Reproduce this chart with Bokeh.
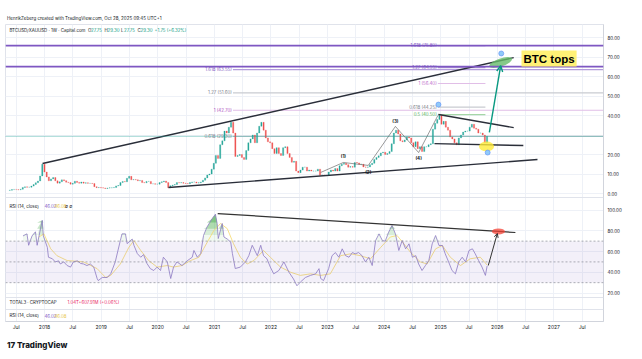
import numpy as np
import pandas as pd
from bokeh.plotting import figure
from bokeh.models import (Range1d, FixedTicker, Span, BoxAnnotation, Label, Div, Arrow, OpenHead)
from bokeh.layouts import column
from bokeh.embed import file_html
from bokeh.resources import INLINE
from bokeh.core.properties import value

# ---------------- data ----------------
last_date = "2025-10-27"          # last bi-weekly bar
first_open = 1.6
close_2017 = [1.7, 2.0, 2.1, 2.0, 1.9, 2.2, 3.1, 3.4, 3.2, 3.2, 3.8, 4.6, 5.5, 6.4, 9.0, 15.0]
close_2018 = [11.0, 8.5, 6.5, 7.5, 8.2, 6.5, 5.3, 6.0, 7.0, 6.6, 5.8, 5.6, 4.8, 5.2, 6.3, 5.7,
              5.3, 5.9, 5.3, 5.5, 5.2, 5.2, 5.1, 3.5, 3.0, 3.1]
close_2019 = [2.9, 2.8, 2.6, 2.8, 2.9, 3.0, 3.1, 3.9, 4.1, 5.6, 6.2, 6.0, 7.8, 8.8, 7.0, 7.2,
              7.0, 6.5, 6.7, 5.6, 5.5, 6.2, 6.2, 5.0, 5.0, 4.8]
close_2020 = [4.8, 5.6, 6.0, 6.4, 5.6, 3.0, 4.0, 4.3, 4.6, 5.6, 5.5, 5.6, 5.3, 5.1, 5.0, 5.6,
              5.9, 5.9, 5.4, 5.5, 5.9, 6.8, 8.0, 9.5, 10.0, 12.5]
close_2021 = [15.5, 19.5, 18.0, 25.0, 27.0, 32.0, 31.0, 34.0, 36.5, 31.0, 19.0, 19.5, 20.0, 18.5,
              17.5, 22.0, 26.0, 28.0, 30.0, 26.0, 31.0, 34.5, 36.5, 32.5, 28.5, 26.5]
close_2022 = [26.0, 23.0, 20.5, 23.5, 20.5, 19.5, 23.5, 24.0, 20.5, 18.5, 16.0, 16.5, 11.5, 10.7,
              12.0, 13.5, 13.5, 11.5, 12.0, 11.5, 11.5, 11.5, 12.5, 9.3, 9.5, 9.2]
close_2023 = [9.2, 11.0, 12.0, 11.5, 12.8, 11.5, 14.2, 15.0, 15.5, 14.8, 13.5, 13.8, 13.5, 15.9,
              15.7, 15.0, 15.0, 13.6, 13.5, 13.6, 14.8, 15.5, 17.5, 18.5, 19.3, 20.8]
close_2024 = [21.2, 20.0, 20.5, 21.5, 25.5, 31.0, 32.5, 30.5, 27.0, 26.5, 27.5, 29.0, 28.5, 26.0,
              24.0, 26.5, 23.0, 24.0, 21.5, 24.0, 24.0, 25.0, 25.5, 33.0, 36.0, 38.0]
close_2025 = [40.0, 35.5, 37.0, 34.0, 32.5, 29.0, 28.0, 26.0, 25.0, 28.5, 30.0, 31.5, 32.0, 32.0,
              34.0, 35.5, 33.5, 33.0, 31.0, 31.0, 30.0, 26.0, 29.3]

# RSI (14, close) read at points along the line: time (years) and value
rsi_t = [2017.62, 2017.69, 2017.72, 2017.78, 2017.84, 2017.87, 2017.96, 2017.98, 2018.05, 2018.07,
         2018.14, 2018.19, 2018.25, 2018.28, 2018.34, 2018.40, 2018.46, 2018.51, 2018.58, 2018.64,
         2018.69, 2018.75, 2018.81, 2018.87, 2018.93, 2018.95, 2019.02, 2019.11, 2019.17, 2019.25,
         2019.34, 2019.37, 2019.43, 2019.46, 2019.55, 2019.58, 2019.64, 2019.70, 2019.75, 2019.81,
         2019.87, 2019.93, 2019.99, 2020.05, 2020.10, 2020.17, 2020.23, 2020.28, 2020.34, 2020.43,
         2020.52, 2020.61, 2020.64, 2020.70, 2020.76, 2020.81, 2020.87, 2020.96, 2021.02, 2021.05,
         2021.07, 2021.14, 2021.17, 2021.23, 2021.29, 2021.32, 2021.37, 2021.46, 2021.55, 2021.61,
         2021.67, 2021.76, 2021.82, 2021.87, 2021.93, 2021.99, 2022.05, 2022.14, 2022.23, 2022.32,
         2022.40, 2022.46, 2022.52, 2022.61, 2022.70, 2022.79, 2022.85, 2022.88, 2022.93, 2023.02,
         2023.08, 2023.14, 2023.20, 2023.26, 2023.32, 2023.38, 2023.44, 2023.49, 2023.55, 2023.61,
         2023.67, 2023.73, 2023.79, 2023.85, 2023.91, 2023.97, 2024.02, 2024.08, 2024.14, 2024.20,
         2024.26, 2024.32, 2024.38, 2024.44, 2024.50, 2024.56, 2024.61, 2024.67, 2024.73, 2024.79,
         2024.85, 2024.91, 2024.97, 2025.03, 2025.08, 2025.14, 2025.20, 2025.26, 2025.32, 2025.38,
         2025.44, 2025.50, 2025.56, 2025.61, 2025.67, 2025.73, 2025.79, 2025.82]
rsi_v = [75, 77, 66, 75, 79, 66, 90, 75, 64, 54.5,
         53, 50, 51, 48, 50, 46.5, 45, 50, 51, 48.5,
         48, 46.5, 48, 45, 34, 32, 35, 35, 38.5, 50,
         70.6, 77, 77, 67.6, 72, 66, 58, 54.5, 57, 48.5,
         43.5, 41.7, 45, 41.7, 54.5, 50, 34, 45, 50, 46.5,
         51, 54.5, 61, 54.5, 58, 75.5, 83.5, 91.5, 96, 87,
         72.5, 87, 74, 72, 69, 58, 43.6, 45, 50, 56,
         66, 56, 66, 56, 53, 45, 38.5, 41.7, 50, 40,
         33.5, 27, 30.5, 35, 37, 38.5, 43.5, 34, 32, 43.5,
         56, 59, 54.5, 62.6, 56, 54.5, 59, 57.8, 59, 56,
         50, 54.5, 46.5, 70.6, 77, 70.6, 70, 78.6, 85, 77,
         61, 70.6, 62.6, 67.4, 54.5, 56, 48, 41.7, 46.5, 51.3,
         67.4, 75.4, 65.8, 65.8, 57.8, 50, 41.7, 38.5, 50, 54.5,
         50, 61, 62.6, 57.8, 51.3, 45, 37, 46]
# RSI-based moving average (yellow)
ma_t = [2017.90, 2017.99, 2018.11, 2018.22, 2018.40, 2018.69, 2018.93, 2019.08, 2019.17, 2019.34,
        2019.49, 2019.58, 2019.70, 2019.84, 2019.99, 2020.17, 2020.28, 2020.43, 2020.58, 2020.73,
        2020.81, 2020.99, 2021.11, 2021.23, 2021.34, 2021.46, 2021.58, 2021.70, 2021.87, 2021.99,
        2022.17, 2022.35, 2022.52, 2022.70, 2022.88, 2023.05, 2023.23, 2023.41, 2023.58, 2023.76,
        2023.94, 2024.11, 2024.23, 2024.35, 2024.47, 2024.64, 2024.76, 2024.91, 2025.03, 2025.17,
        2025.35, 2025.52, 2025.70, 2025.82]
ma_v = [74, 77, 62.6, 56, 51.3, 50, 43.5, 35, 37, 48,
        64, 70.6, 61, 51.3, 45, 46.5, 45, 46.5, 51.3, 54.5,
        62.6, 80, 87, 82, 67.4, 54.5, 48, 51.3, 61, 54.5,
        45, 40, 37, 38.5, 37, 38.5, 56, 57.8, 56, 53,
        64, 74, 75.4, 67.4, 59, 50, 48, 62.6, 65.8, 54.5,
        46.5, 53, 54.5, 47]

# drawings (time in years, price in BTC/XAU units)
upper_wedge_t, upper_wedge_v = [2017.965, 2026.29], [15.4, 69.7]
lower_wedge_t, lower_wedge_v = [2020.19, 2026.71], [3.1, 17.4]
resist_t, resist_v = [2024.96, 2026.29], [40.5, 33.8]
support_t, support_v = [2024.89, 2026.46], [25.6, 24.6]
wave_t = [2022.88, 2023.28, 2023.72, 2024.20, 2024.61, 2024.95]
wave_v = [10.8, 15.9, 14.4, 34.4, 21.0, 40.0]
wave_lbl = ["(1)", "(2)", "(3)", "(4)"]
wave_lbl_t = [2023.28, 2023.72, 2024.20, 2024.61]
wave_lbl_v = [19.2, 10.9, 37.0, 17.8]
hlines = [75.80, 65.05]
fib_r_levels = [75.80, 64.55, 56.40, 44.25, 40.50]
fib_r_text = ["1.618 (75.80)", "1.27 (64.55)", "1 (56.40)", "0.618 (44.25)", "0.5 (40.50)"]
fib_r_color = ["#7e57c2", "#7e57c2", "#ba68c8", "#787b86", "#4caf50"]
fib_r_span = [2024.95, 2025.79]
fib_l_levels = [63.55, 51.60, 42.70, 29.30]
fib_l_text = ["1.618 (63.55)", "1.27 (51.60)", "1 (42.70)", "0.618 (29.30)"]
fib_l_color = ["#7e57c2", "#787b86", "#ab47bc", "#787b86"]
fib_l_start = 2021.33
last_close = 29.30
arrow_price = (2025.86, 31.3, 2026.06, 65.6)
arrow_rsi = (2025.84, 46.5, 2026.00, 77.4)
rsi_trend_t, rsi_trend_v = [2021.06, 2026.32], [96.6, 78.3]
marks_t, marks_v = [2024.96, 2025.83, 2026.07], [45.6, 21.0, 71.8]
price_ticks = [0, 10, 20, 30, 40, 50, 60, 70, 80]
rsi_ticks = [20, 40, 60, 80, 100]
years = list(range(2018, 2028))

# ---------------- layout (pixel mapping) ----------------
LEFT, FW, FH = 5, 598, 297
PX_YEAR = 56.6
X0 = 2018 - (44 - LEFT) / PX_YEAR
X1 = X0 + FW / PX_YEAR
P_LO, P_HI = (193 - 321) / 1.95, (193 - 24) / 1.95
R_LO, R_HI = (313.3 - 321) / 1.038, (313.3 - 24) / 1.038

def tx(px):
    return X0 + (px - LEFT) / FW * (X1 - X0)

def pv(py):
    return P_HI - (py - 24) / FH * (P_HI - P_LO)

def r2p(r):
    return P_LO + (r - R_LO) / (R_HI - R_LO) * (P_HI - P_LO)

FONT = "Inter"
closes = (close_2017 + close_2018 + close_2019 + close_2020 + close_2021 + close_2022
          + close_2023 + close_2024 + close_2025)
dates = pd.date_range(end=last_date, periods=len(closes), freq="14D")
tt = np.asarray(dates.year + (dates.dayofyear - 1) / 365.25, dtype=float)
c = np.array(closes, dtype=float)
o = np.concatenate([[first_open], c[:-1]])
up = c >= o
col = np.where(up, "#26a69a", "#ef5350")

p = figure(frame_width=FW, frame_height=FH, x_range=Range1d(X0, X1), y_range=Range1d(P_LO, P_HI),
           output_backend="svg", toolbar_location=None, min_border_left=LEFT, min_border_top=0,
           min_border_right=642 - LEFT - FW, min_border_bottom=15, y_axis_location="right",
           background_fill_color="white", border_fill_color="white",
           outline_line_color="#e0e3eb")
p.extra_y_ranges = {"rsi": Range1d(R_LO, R_HI)}

# axes & grid
xt = []
xl = {}
for y in years:
    xt += [y - 0.5, y]
    xl[y - 0.5] = "Jul"
    xl[y] = str(y)
xt.append(years[-1] + 0.5)
xl[years[-1] + 0.5] = "Jul"
p.xaxis.ticker = FixedTicker(ticks=xt)
p.xgrid.ticker = FixedTicker(ticks=xt)
p.xaxis.major_label_overrides = xl
yt = [float(v) for v in price_ticks] + [r2p(r) for r in rsi_ticks]
yl = {float(v): ("" if v == 30 else f"{v:.2f}") for v in price_ticks}
for r in rsi_ticks:
    yl[r2p(r)] = f"{r:.2f}"
p.yaxis.ticker = FixedTicker(ticks=yt)
p.ygrid.ticker = FixedTicker(ticks=yt)
p.yaxis.major_label_overrides = yl
for ax in (p.xaxis[0], p.yaxis[0]):
    ax.major_tick_line_color = None
    ax.minor_tick_line_color = None
    ax.major_tick_out = 0
    ax.major_tick_in = 0
    ax.minor_tick_out = 0
    ax.minor_tick_in = 0
    ax.axis_line_color = "#d1d4dc"
    ax.major_label_text_font = FONT
    ax.major_label_text_color = "#131722"
p.xaxis.major_label_text_font_size = "5px"
p.xaxis.major_label_standoff = 2
p.yaxis.major_label_text_font_size = "4.5px"
p.yaxis.major_label_standoff = 4
p.xgrid.grid_line_color = "#eef1f7"
p.ygrid.grid_line_color = "#eef1f7"

# pane separators
for py in (197, 297, 309):
    p.add_layout(Span(location=pv(py), dimension="width", line_color="#e0e3eb", line_width=1))

# RSI pane
p.add_layout(BoxAnnotation(bottom=30, top=70, y_range_name="rsi", fill_color="#7e57c2",
                           fill_alpha=0.09, line_color=None))
for lvl in (70, 50, 30):
    p.add_layout(Span(location=lvl, y_range_name="rsi", dimension="width", line_color="#9598a1",
                      line_dash="2 2", line_width=0.8))
ra = np.array(rsi_v, dtype=float)
for th, al in ((70, 0.08), (76, 0.15), (82, 0.3), (88, 0.45)):
    p.varea(x=rsi_t, y1=th, y2=np.maximum(ra, th), y_range_name="rsi", fill_color="#4caf50",
            fill_alpha=al)
p.line(ma_t, ma_v, y_range_name="rsi", line_color="#f5d96b", line_width=0.8)
p.line(rsi_t, rsi_v, y_range_name="rsi", line_color="#8e7cc3", line_width=0.8)
p.line(rsi_trend_t, rsi_trend_v, y_range_name="rsi", line_color="#333333", line_width=1.2)
p.ellipse(x=[arrow_rsi[2] + 0.02], y=[79.3], width=13, height=6, width_units="screen",
          height_units="screen", y_range_name="rsi", fill_color="#f44336", fill_alpha=0.75,
          line_color=None)
p.add_layout(Arrow(end=OpenHead(size=4, line_color="#333333", line_width=1),
                   x_start=arrow_rsi[0], y_start=arrow_rsi[1], x_end=arrow_rsi[2], y_end=arrow_rsi[3],
                   y_range_name="rsi", line_color="#333333", line_width=1))

# main pane: horizontal levels
for h in hlines:
    p.add_layout(Span(location=h, dimension="width", line_color="#7e57c2", line_width=1.8))
p.add_layout(Span(location=last_close, dimension="width", line_color="#26a69a", line_width=0.8,
                  line_dash="1 1"))
for lv, tx_, cl in zip(fib_l_levels, fib_l_text, fib_l_color):
    lc = {"#7e57c2": "#b39ddb", "#787b86": "#c9cbd1", "#ab47bc": "#e1bee7"}[cl]
    p.segment(x0=fib_l_start, y0=lv, x1=X1, y1=lv, line_color=lc, line_width=1.2)
    p.text(x=[fib_l_start - 0.02], y=[lv], text=[tx_], text_color=cl, text_font=value(FONT),
           text_font_size="4.4px", text_align="right", text_baseline="middle")
for lv, tx_, cl in zip(fib_r_levels, fib_r_text, fib_r_color):
    lc = {"#7e57c2": "#b39ddb", "#ba68c8": "#e1bee7", "#787b86": "#c9cbd1", "#4caf50": "#a5d6a7"}[cl]
    p.segment(x0=fib_r_span[0], y0=lv, x1=fib_r_span[1], y1=lv, line_color=lc, line_width=1.2)
    p.text(x=[fib_r_span[0] - 0.02], y=[lv], text=[tx_], text_color=cl, text_font=value(FONT),
           text_font_size="4.4px", text_align="right", text_baseline="middle")

# candles
p.vbar(x=tt, width=0.55 * 14 / 365.25, top=np.maximum(o, c), bottom=np.minimum(o, c),
       fill_color=col, line_color=col, line_width=0.3)

# trend lines and waves
for xs, ys in ((upper_wedge_t, upper_wedge_v), (lower_wedge_t, lower_wedge_v),
               (resist_t, resist_v), (support_t, support_v)):
    p.line(xs, ys, line_color="#2a2e39", line_width=1.4)
p.line(wave_t, wave_v, line_color="#555555", line_width=0.6)
p.text(x=wave_lbl_t, y=wave_lbl_v, text=wave_lbl, text_font=value(FONT), text_font_size="4.5px",
       text_font_style="bold", text_color="#131722", text_align="center", text_baseline="middle")

# highlight shapes and arrow
p.ellipse(x=[arrow_price[2]], y=[67.2], width=24, height=8, angle=0.33, width_units="screen",
          height_units="screen", fill_color="#66bb6a", fill_alpha=0.8, line_color=None)
p.ellipse(x=[2025.81], y=[24.1], width=15, height=10, width_units="screen", height_units="screen",
          fill_color="#ffeb3b", fill_alpha=0.8, line_color=None)
p.add_layout(Arrow(end=OpenHead(size=6, line_color="#089981", line_width=1.4),
                   x_start=arrow_price[0], y_start=arrow_price[1], x_end=arrow_price[2],
                   y_end=arrow_price[3], line_color="#089981", line_width=1.4))
p.scatter(x=marks_t, y=marks_v, size=5, fill_color="#90caf9", line_color="#5c8df6", line_width=0.6)
p.add_layout(Label(x=tx(521), y=pv(58), text="BTC tops", text_font="Liberation Sans",
                   text_font_style="bold", text_font_size="11.5px", text_color="#000000",
                   text_baseline="middle", background_fill_color="#fff176", padding=2))

# right-axis price boxes
for h in hlines:
    p.add_layout(Label(x=tx(604), y=h, text=f"{h:.2f}", text_font=FONT, text_font_size="4.5px",
                       text_color="white", text_baseline="middle", background_fill_color="#673ab7",
                       padding=1))
p.add_layout(Label(x=tx(604), y=pv(138), text=f"{last_close:.2f}\n5d 14h", text_font=FONT,
                   text_font_size="4.5px", text_color="white", text_baseline="middle",
                   background_fill_color="#22ab94", padding=1))

# legends
def lab(px, py, text, color):
    p.add_layout(Label(x=tx(px), y=pv(py), text=text, text_font=FONT, text_font_size="4.4px",
                       text_color=color, text_baseline="middle"))

lab(9, 29.7, "BTCUSD/XAUUSD · 1W · Capital.com", "#131722")
for px, k, v in ((87.5, "O", "27.75"), (104, "H", "29.30"), (120.5, "L", "27.75"), (137, "C", "29.30")):
    lab(px, 29.7, k, "#131722")
    lab(px + 3, 29.7, v, "#089981")
lab(154, 29.7, "+1.75 (+6.32%)", "#089981")
lab(9, 205.7, "RSI (14, close)", "#131722")
lab(44, 205.7, "46.02", "#7e57c2")
lab(54, 205.7, "46.08", "#e6c440")
lab(64.5, 205.7, "∅  ∅", "#131722")
lab(9, 302, "TOTAL3 · CRYPTOCAP", "#131722")
lab(67, 302, "1.04T", "#e91e63")
lab(78, 302, "+607.91M (+0.06%)", "#e91e63")
lab(9, 315, "RSI (14, close)", "#131722")
lab(44, 315, "46.02", "#7e57c2")
lab(54, 315, "46.08", "#e6c440")

header = Div(text='<div style="font-family:Inter,sans-serif;font-size:4.5px;color:#131722;'
                  'white-space:nowrap;padding:16px 0 0 7px">HenrikZeberg created with TradingView.com, '
                  'Oct 28, 2025 09:45 UTC+1</div>', width=642, height=24, margin=(0, 0, 0, 0))
logo = Div(text='<div style="font-family:Inter,sans-serif;font-size:8px;font-weight:800;'
                'color:#131722;white-space:nowrap;padding:1px 0 0 7px">17 TradingView</div>',
           width=642, height=23, margin=(0, 0, 0, 0))

page = column(header, p, logo, spacing=0)
open("out.html", "w").write(file_html(page, INLINE))
